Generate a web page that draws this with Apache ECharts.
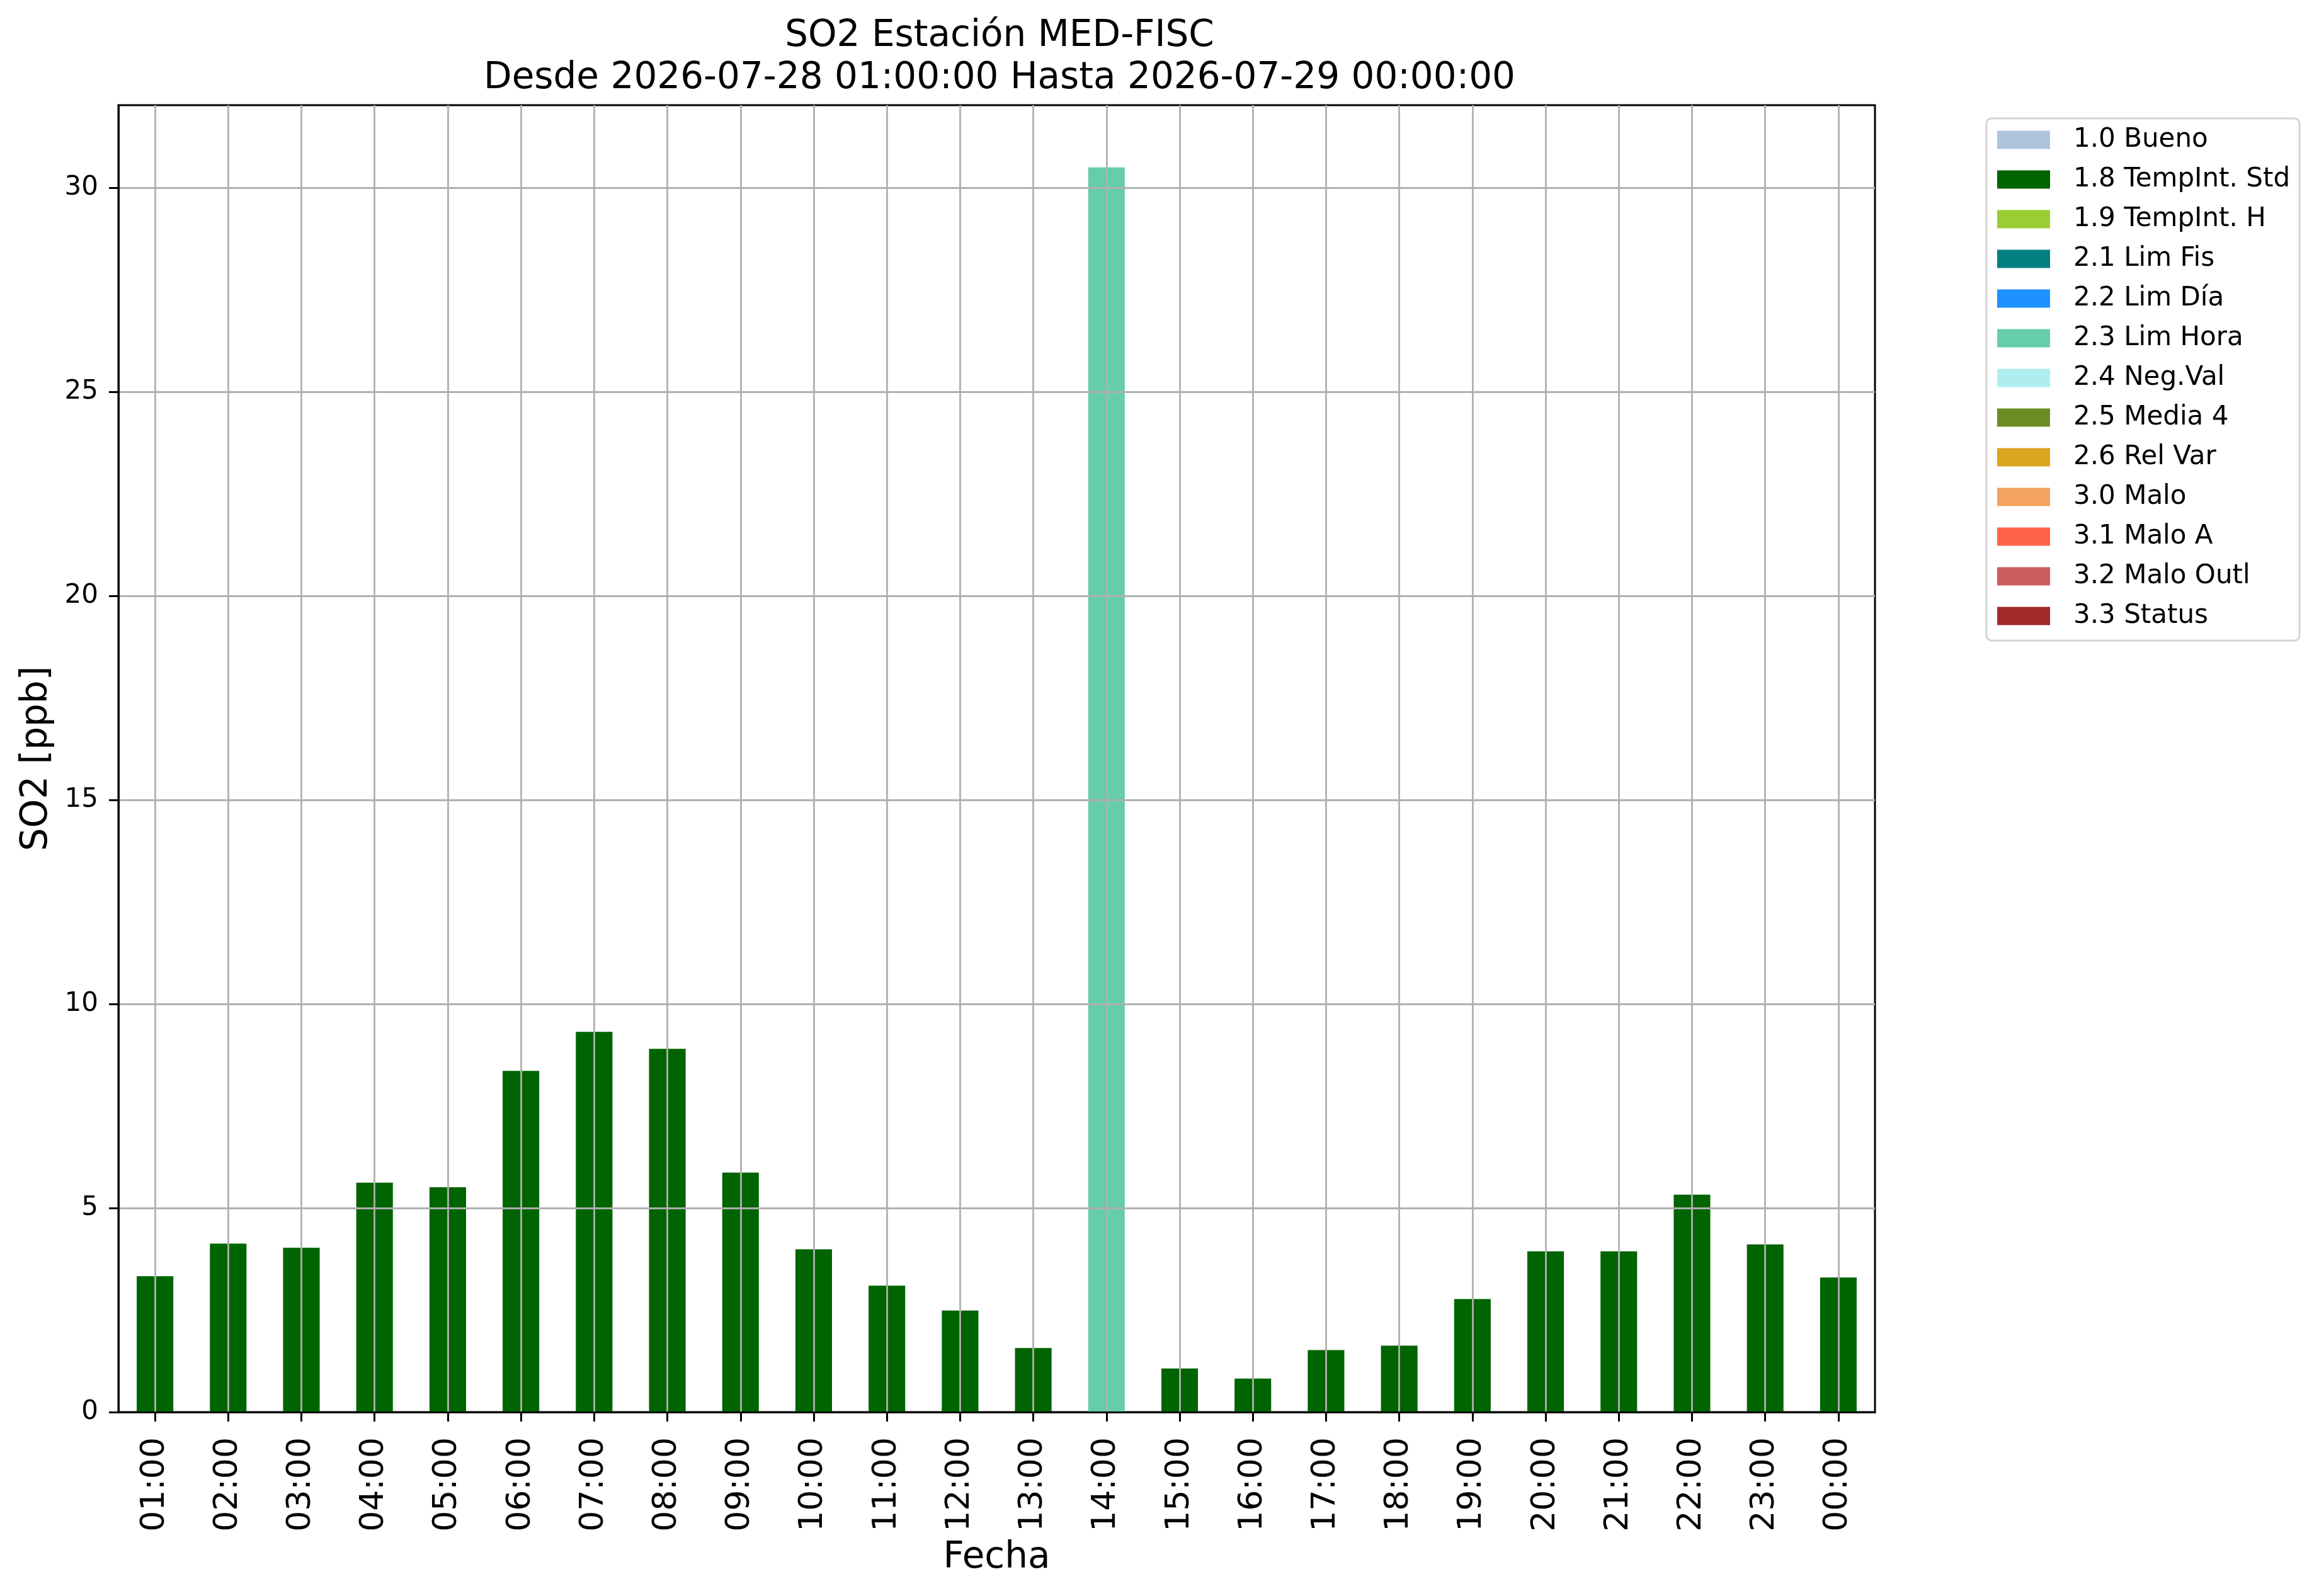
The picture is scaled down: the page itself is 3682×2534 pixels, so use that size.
<!DOCTYPE html>
<html>
<head>
<meta charset="utf-8">
<script src="https://cdn.jsdelivr.net/npm/echarts@6/dist/echarts.min.js"></script>
<style>
html,body{margin:0;padding:0;background:#fff;}
#chart{width:3682px;height:2534px;}
</style>
</head>
<body>
<div id="chart"></div>
<script>
// ---- data ----
var hours = ['01:00','02:00','03:00','04:00','05:00','06:00','07:00','08:00','09:00','10:00','11:00','12:00',
             '13:00','14:00','15:00','16:00','17:00','18:00','19:00','20:00','21:00','22:00','23:00','00:00'];
var so2Values = [3.33, 4.13, 4.03, 5.62, 5.51, 8.36, 9.32, 8.90, 5.87, 3.99, 3.10, 2.49,
                 1.57, 30.50, 1.07, 0.82, 1.52, 1.63, 2.77, 3.94, 3.94, 5.33, 4.11, 3.30];
// flag label assigned to each hour
var hourFlags = ['1.8 TempInt. Std','1.8 TempInt. Std','1.8 TempInt. Std','1.8 TempInt. Std','1.8 TempInt. Std','1.8 TempInt. Std',
                 '1.8 TempInt. Std','1.8 TempInt. Std','1.8 TempInt. Std','1.8 TempInt. Std','1.8 TempInt. Std','1.8 TempInt. Std',
                 '1.8 TempInt. Std','2.3 Lim Hora','1.8 TempInt. Std','1.8 TempInt. Std','1.8 TempInt. Std','1.8 TempInt. Std',
                 '1.8 TempInt. Std','1.8 TempInt. Std','1.8 TempInt. Std','1.8 TempInt. Std','1.8 TempInt. Std','1.8 TempInt. Std'];
var flagNames = ['1.0 Bueno','1.8 TempInt. Std','1.9 TempInt. H','2.1 Lim Fis','2.2 Lim Día','2.3 Lim Hora',
                 '2.4 Neg.Val','2.5 Media 4','2.6 Rel Var','3.0 Malo','3.1 Malo A','3.2 Malo Outl','3.3 Status'];
var flagColors = ['#B0C4DE','#006400','#9ACD32','#008080','#1E90FF','#66CDAA',
                  '#AFEEEE','#6B8E23','#DAA520','#F4A460','#FF6347','#CD5C5C','#A52A2A'];
var yTicks = [0, 5, 10, 15, 20, 25, 30];
var yMax = 32.025;

var FONT = 'DejaVu Sans';
var chart = echarts.init(document.getElementById('chart'), null, {renderer: 'canvas', devicePixelRatio: 1});

var series = flagNames.map(function (name, k) {
  return {
    name: name,
    type: 'bar',
    stack: 'total',
    barWidth: '50%',
    itemStyle: {color: flagColors[k]},
    data: so2Values.map(function (v, i) { return hourFlags[i] === name ? v : '-'; })
  };
});

var option = {
  backgroundColor: '#ffffff',
  animation: false,
  title: {
    text: 'SO2 Estación MED-FISC\nDesde 2026-07-28 01:00:00 Hasta 2026-07-29 00:00:00',
    left: 1582,
    top: 19,
    textAlign: 'center',
    textStyle: {fontFamily: FONT, fontSize: 58, fontWeight: 'normal', color: '#000', lineHeight: 67}
  },
  legend: {
    orient: 'vertical',
    left: 3154,
    top: 188,
    padding: [13, 15, 18, 17],
    itemWidth: 84,
    itemHeight: 29,
    itemGap: 21,
    icon: 'rect',
    borderColor: '#d4d4d4',
    borderWidth: 3,
    borderRadius: 8,
    backgroundColor: '#ffffff',
    data: flagNames,
    textStyle: {fontFamily: FONT, fontSize: 42, color: '#000', padding: [0, 0, 0, 32]}
  },
  grid: {
    left: 188, right: 705, top: 167, bottom: 292,
    show: true, borderColor: '#000', borderWidth: 3, backgroundColor: 'transparent',
    containLabel: false
  },
  xAxis: {
    type: 'category',
    data: hours,
    boundaryGap: true,
    z: 3,
    name: 'Fecha',
    nameLocation: 'middle',
    nameGap: 203,
    nameTextStyle: {fontFamily: FONT, fontSize: 58, color: '#000'},
    axisLine: {show: true, lineStyle: {color: '#000', width: 3}},
    axisTick: {show: true, alignWithLabel: true, length: 15, lineStyle: {color: '#000', width: 3}},
    axisLabel: {show: true, rotate: 90, margin: 40, interval: 0, fontFamily: FONT, fontSize: 52, color: '#000'},
    splitLine: {show: true, alignWithLabel: true, interval: 0, lineStyle: {color: '#b0b0b0', width: 2.8}}
  },
  yAxis: {
    type: 'value',
    min: 0,
    max: yMax,
    interval: 5,
    z: 3,
    name: 'SO2 [ppb]',
    nameLocation: 'middle',
    nameRotate: 90,
    nameGap: 100,
    nameTextStyle: {fontFamily: FONT, fontSize: 58, color: '#000'},
    axisLine: {show: true, lineStyle: {color: '#000', width: 3}},
    axisTick: {show: true, length: 15, customValues: yTicks, lineStyle: {color: '#000', width: 3}},
    axisLabel: {show: true, margin: 32, customValues: yTicks, fontFamily: FONT, fontSize: 42, color: '#000'},
    splitLine: {show: true, lineStyle: {color: '#b0b0b0', width: 2.8}}
  },
  series: series
};
chart.setOption(option);
</script>
</body>
</html>
